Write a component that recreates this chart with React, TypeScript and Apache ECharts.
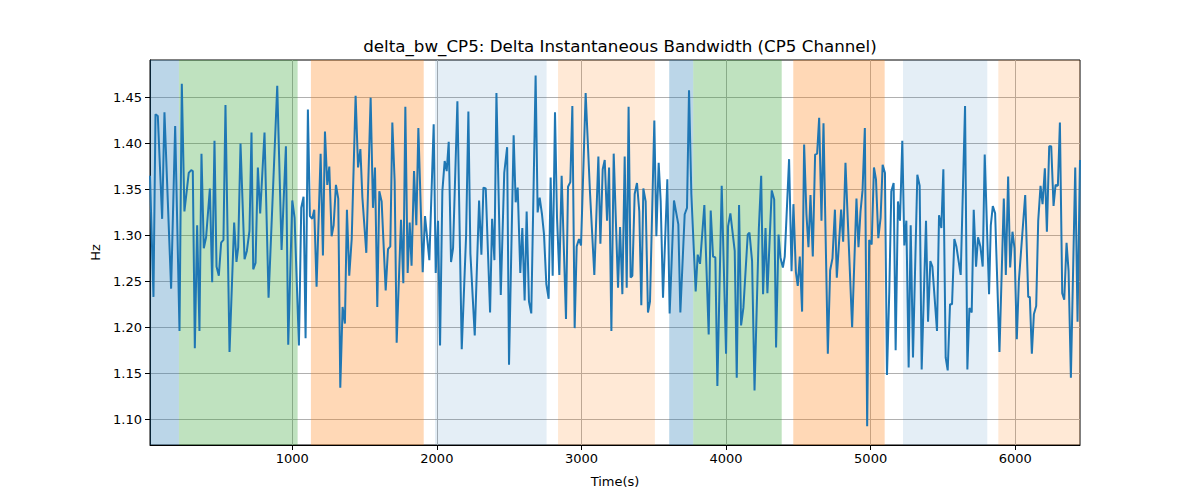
import { useEffect, useRef } from "react";
import * as echarts from "echarts";

// sample times (s) and delta bandwidth (Hz)
const times = [
  16, 40, 54, 70, 100, 116, 162, 190, 220, 236, 254, 284, 301, 312, 326, 342, 358, 372, 388, 404,
  430, 446, 462, 476, 492, 508, 524, 538, 566, 598, 614, 626, 642, 670, 686, 704, 718, 730, 746, 762,
  778, 808, 836, 896, 926, 956, 972, 1000, 1016, 1046, 1062, 1078, 1092, 1108, 1122, 1138, 1152, 1168, 1196, 1212,
  1226, 1242, 1256, 1272, 1286, 1302, 1318, 1332, 1348, 1364, 1378, 1394, 1411, 1438, 1455, 1471, 1485, 1512, 1542, 1558,
  1572, 1588, 1602, 1618, 1646, 1662, 1678, 1692, 1708, 1722, 1752, 1768, 1782, 1798, 1812, 1825, 1842, 1858, 1872, 1902,
  1918, 1948, 1978, 1992, 2008, 2022, 2038, 2054, 2068, 2082, 2098, 2112, 2142, 2172, 2202, 2218, 2232, 2262, 2292, 2308,
  2322, 2338, 2368, 2382, 2398, 2412, 2442, 2466, 2486, 2499, 2531, 2545, 2559, 2577, 2591, 2607, 2621, 2637, 2653, 2683,
  2697, 2711, 2727, 2741, 2757, 2773, 2787, 2801, 2817, 2831, 2847, 2863, 2893, 2907, 2923, 2937, 2953, 2967, 2983, 2997,
  3029, 3059, 3089, 3117, 3131, 3147, 3161, 3177, 3191, 3207, 3223, 3253, 3267, 3283, 3299, 3313, 3326, 3340, 3352, 3368,
  3384, 3400, 3414, 3428, 3444, 3460, 3474, 3504, 3518, 3534, 3548, 3564, 3594, 3610, 3640, 3670, 3684, 3714, 3730, 3744,
  3760, 3790, 3804, 3820, 3850, 3880, 3894, 3910, 3926, 3940, 3970, 4000, 4014, 4030, 4060, 4074, 4090, 4104, 4120, 4150,
  4162, 4180, 4197, 4227, 4243, 4256, 4273, 4286, 4316, 4333, 4346, 4363, 4376, 4393, 4406, 4436, 4453, 4466, 4483, 4496,
  4510, 4526, 4540, 4556, 4570, 4584, 4600, 4616, 4630, 4644, 4660, 4674, 4704, 4720, 4736, 4753, 4766, 4796, 4810, 4826,
  4872, 4902, 4916, 4930, 4944, 4960, 4976, 4990, 5007, 5023, 5037, 5053, 5069, 5083, 5099, 5113, 5129, 5143, 5159, 5173,
  5189, 5203, 5219, 5233, 5247, 5263, 5277, 5293, 5323, 5339, 5353, 5383, 5397, 5413, 5427, 5459, 5473, 5489, 5503, 5519,
  5533, 5549, 5563, 5579, 5593, 5623, 5653, 5669, 5683, 5699, 5713, 5729, 5743, 5759, 5775, 5789, 5819, 5831, 5845, 5861,
  5891, 5921, 5935, 5951, 5965, 5981, 5995, 6011, 6025, 6069, 6090, 6101, 6115, 6129, 6145, 6159, 6175, 6189, 6205, 6219,
  6235, 6249, 6265, 6279, 6295, 6309, 6325, 6339, 6355, 6369, 6385, 6415, 6431, 6448,
];

const bandwidth = [
  1.365, 1.233, 1.432, 1.43, 1.318, 1.434, 1.242, 1.419, 1.196, 1.465, 1.326, 1.368, 1.371, 1.37, 1.177, 1.311, 1.196, 1.389, 1.286, 1.298,
  1.351, 1.249, 1.403, 1.266, 1.256, 1.292, 1.295, 1.442, 1.173, 1.314, 1.271, 1.287, 1.4, 1.274, 1.283, 1.305, 1.412, 1.263, 1.27, 1.374,
  1.324, 1.412, 1.232, 1.463, 1.284, 1.397, 1.181, 1.338, 1.319, 1.18, 1.33, 1.342, 1.188, 1.437, 1.321, 1.318, 1.328, 1.244, 1.389, 1.278,
  1.413, 1.355, 1.375, 1.299, 1.311, 1.355, 1.34, 1.134, 1.222, 1.204, 1.328, 1.256, 1.296, 1.452, 1.374, 1.394, 1.341, 1.281, 1.45, 1.33,
  1.374, 1.222, 1.348, 1.337, 1.24, 1.285, 1.288, 1.423, 1.359, 1.183, 1.317, 1.248, 1.44, 1.259, 1.314, 1.267, 1.37, 1.311, 1.417, 1.26,
  1.321, 1.273, 1.421, 1.259, 1.316, 1.18, 1.348, 1.381, 1.37, 1.402, 1.271, 1.286, 1.446, 1.176, 1.299, 1.435, 1.28, 1.191, 1.338, 1.279,
  1.352, 1.351, 1.216, 1.318, 1.273, 1.455, 1.235, 1.368, 1.396, 1.159, 1.409, 1.336, 1.352, 1.259, 1.308, 1.229, 1.326, 1.228, 1.215, 1.474,
  1.325, 1.341, 1.323, 1.301, 1.247, 1.231, 1.363, 1.256, 1.434, 1.319, 1.257, 1.365, 1.209, 1.353, 1.358, 1.441, 1.199, 1.288, 1.296, 1.289,
  1.455, 1.347, 1.257, 1.386, 1.291, 1.372, 1.382, 1.316, 1.374, 1.196, 1.389, 1.243, 1.309, 1.236, 1.386, 1.243, 1.44, 1.254, 1.256, 1.345,
  1.357, 1.326, 1.224, 1.351, 1.337, 1.216, 1.228, 1.425, 1.299, 1.379, 1.337, 1.232, 1.361, 1.215, 1.338, 1.312, 1.216, 1.323, 1.33, 1.458,
  1.345, 1.239, 1.279, 1.269, 1.333, 1.192, 1.327, 1.277, 1.276, 1.136, 1.354, 1.171, 1.31, 1.324, 1.283, 1.145, 1.333, 1.202, 1.221, 1.301,
  1.303, 1.272, 1.131, 1.308, 1.365, 1.236, 1.308, 1.237, 1.349, 1.339, 1.178, 1.301, 1.276, 1.265, 1.277, 1.383, 1.261, 1.334, 1.26, 1.245,
  1.277, 1.217, 1.399, 1.323, 1.287, 1.344, 1.277, 1.388, 1.389, 1.428, 1.316, 1.422, 1.171, 1.262, 1.275, 1.328, 1.254, 1.328, 1.293, 1.379,
  1.2, 1.34, 1.287, 1.326, 1.349, 1.417, 1.092, 1.295, 1.29, 1.374, 1.361, 1.297, 1.319, 1.377, 1.368, 1.148, 1.239, 1.348, 1.357, 1.175,
  1.337, 1.316, 1.403, 1.289, 1.316, 1.156, 1.311, 1.167, 1.366, 1.354, 1.154, 1.316, 1.206, 1.272, 1.266, 1.196, 1.322, 1.308, 1.372, 1.167,
  1.153, 1.225, 1.225, 1.296, 1.288, 1.257, 1.441, 1.154, 1.221, 1.216, 1.328, 1.266, 1.298, 1.288, 1.266, 1.388, 1.236, 1.311, 1.332, 1.324,
  1.173, 1.34, 1.257, 1.364, 1.265, 1.304, 1.286, 1.187, 1.25, 1.344, 1.233, 1.233, 1.171, 1.214, 1.223, 1.316, 1.354, 1.334, 1.373, 1.304,
  1.397, 1.397, 1.332, 1.355, 1.354, 1.423, 1.237, 1.23, 1.292, 1.261, 1.145, 1.374, 1.206, 1.382,
];

// shaded phases
const phaseStart = [16, 216, 1129, 1987, 2838, 3607, 3773, 4465, 5224, 5883];
const phaseEnd = [216, 1037, 1909, 2759, 3508, 3773, 4385, 5097, 5807, 6448];
const phaseKind = ["a", "b", "c", "d", "e", "a", "b", "c", "d", "e"];

const xTicks = [1000, 2000, 3000, 4000, 5000, 6000];
const yTicks = [1.1, 1.15, 1.2, 1.25, 1.3, 1.35, 1.4, 1.45];

const X_MIN = 16;
const X_MAX = 6448;
const Y_MIN = 1.0717;
const Y_MAX = 1.491;

const phaseColors: Record<string, string> = {
  a: "rgba(31,119,180,0.3)",
  b: "rgba(44,160,44,0.3)",
  c: "rgba(255,127,14,0.3)",
  d: "rgba(31,119,180,0.12)",
  e: "rgba(255,127,14,0.17)",
};

const FONT = "DejaVu Sans";

export default function App() {
  const chartRef = useRef<HTMLDivElement>(null);

  useEffect(() => {
    document.body.style.margin = "0";
    if (!chartRef.current) return;
    const chart = echarts.init(chartRef.current, undefined, { renderer: "svg" });

    const points = times.map((t, i) => [t, bandwidth[i]]);
    const areas = phaseStart.map((s, i) => [
      { xAxis: s, itemStyle: { color: phaseColors[phaseKind[i]] } },
      { xAxis: phaseEnd[i] },
    ]);

    chart.setOption({
      animation: false,
      textStyle: { fontFamily: FONT },
      title: {
        text: "delta_bw_CP5: Delta Instantaneous Bandwidth (CP5 Channel)",
        left: 615,
        top: 32,
        textAlign: "center",
        textStyle: { fontFamily: FONT, fontSize: 16.7, fontWeight: "normal", color: "#000" },
      },
      grid: {
        left: 150,
        right: 120,
        top: 60,
        bottom: 55,
        show: true,
        borderColor: "#000",
        borderWidth: 1,
        backgroundColor: "transparent",
      },
      xAxis: {
        type: "value",
        min: X_MIN,
        max: X_MAX,
        name: "Time(s)",
        nameLocation: "middle",
        nameGap: 30,
        nameTextStyle: { fontFamily: FONT, fontSize: 13, color: "#000" },
        axisLine: { show: true, lineStyle: { color: "#000", width: 1 } },
        axisTick: { show: true, length: 5, customValues: xTicks, lineStyle: { color: "#000" } },
        axisLabel: {
          customValues: xTicks,
          margin: 7,
          fontFamily: FONT,
          fontSize: 13,
          color: "#000",
          formatter: (v: number) => String(v),
        },
        splitLine: { show: true, lineStyle: { color: "#b0b0b0", width: 1 } },
      },
      yAxis: {
        type: "value",
        min: Y_MIN,
        max: Y_MAX,
        name: "Hz",
        nameLocation: "middle",
        nameGap: 47,
        nameRotate: 90,
        nameTextStyle: { fontFamily: FONT, fontSize: 13, color: "#000" },
        axisLine: { show: true, lineStyle: { color: "#000", width: 1 } },
        axisTick: { show: true, length: 5, customValues: yTicks, lineStyle: { color: "#000" } },
        axisLabel: {
          customValues: yTicks,
          margin: 8,
          fontFamily: FONT,
          fontSize: 13,
          color: "#000",
          formatter: (v: number) => v.toFixed(2),
        },
        splitLine: { show: true, lineStyle: { color: "#b0b0b0", width: 1 } },
      },
      series: [
        {
          type: "line",
          data: points,
          showSymbol: false,
          symbol: "none",
          clip: true,
          z: 3,
          lineStyle: { color: "#1f77b4", width: 2 },
          markArea: {
            silent: true,
            data: areas,
          },
        },
      ],
    });

    return () => {
      chart.dispose();
    };
  }, []);

  return <div ref={chartRef} style={{ width: 1200, height: 500 }} />;
}
